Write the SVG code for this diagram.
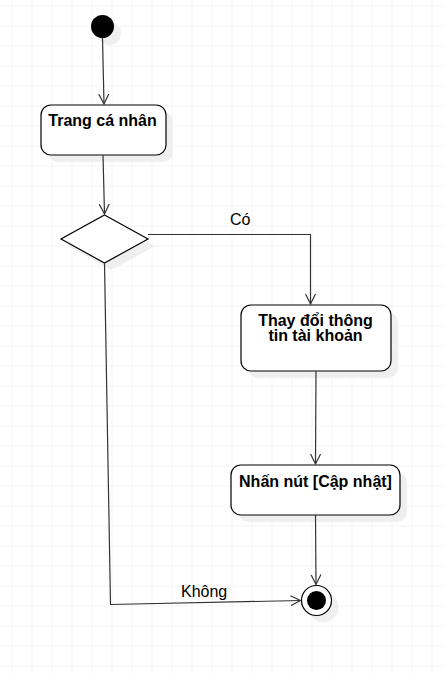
<svg xmlns="http://www.w3.org/2000/svg" width="445" height="673" viewBox="0 0 445 673">
<defs>
<pattern id="grid" x="11.5" y="5.5" width="20" height="20" patternUnits="userSpaceOnUse">
<path d="M0 0H20M0 0V20" fill="none" stroke="#ebebeb" stroke-width="1"/>
</pattern>
<marker id="open" markerWidth="12" markerHeight="12" refX="10" refY="5" orient="auto" markerUnits="userSpaceOnUse" viewBox="0 0 12 10">
<path d="M0 0L10 5L0 10" fill="none" stroke="#333" stroke-width="1.2"/>
</marker>
</defs>
<style>
.node{fill:#fff;stroke:#000;stroke-width:1.2}
.shadow{fill:#efefef;stroke:none}
.lbl{font-family:"Liberation Sans",Arial,sans-serif;font-size:16px;font-weight:bold;fill:#000;text-anchor:middle}
.edge{fill:none;stroke:#333;stroke-width:1.2}
.elbl{font-family:"Liberation Sans",Arial,sans-serif;font-size:16px;fill:#000}
</style>
<rect width="445" height="673" fill="#fff"/>
<rect width="445" height="673" fill="url(#grid)"/>

<g id="start">
<circle class="shadow" cx="109.5" cy="33.5" r="11.5"/>
<circle cx="102.5" cy="26.5" r="11.5" fill="#000"/>
</g>

<g id="trang-ca-nhan">
<rect class="shadow" x="48" y="112" width="125" height="50" rx="10"/>
<rect class="node" x="41" y="105" width="125" height="50" rx="10"/>
<text class="lbl" x="102.5" y="126">Trang cá nhân</text>
</g>

<g id="decision">
<polygon class="shadow" points="111.5,222 155,246 111.5,270 68,246"/>
<polygon class="node" points="104.5,215 148,239 104.5,263 61,239"/>
</g>

<g id="thay-doi">
<rect class="shadow" x="248" y="312" width="150" height="66" rx="10"/>
<rect class="node" x="241" y="305" width="150" height="66" rx="10"/>
<text class="lbl" x="315.5" y="325.5"><tspan x="315.5" y="325.5">Thay đổi thông</tspan><tspan x="315.5" y="340.5">tin tài khoản</tspan></text>
</g>

<g id="nhan-nut">
<rect class="shadow" x="238" y="472" width="169" height="50" rx="10"/>
<rect class="node" x="231" y="465" width="169" height="50" rx="10"/>
<text class="lbl" x="315.5" y="487">Nhấn nút [Cập nhật]</text>
</g>

<g id="end">
<circle class="shadow" cx="323.5" cy="607.5" r="15"/>
<circle cx="316.5" cy="600.5" r="15" fill="#fff" stroke="#000" stroke-width="1.2"/>
<circle cx="316.5" cy="600.5" r="9.5" fill="#000"/>
</g>

<g id="connectors">
<path class="edge" d="M102.5 38L104 104" marker-end="url(#open)"/>
<path class="edge" d="M103 155L104.5 214" marker-end="url(#open)"/>
<path class="edge" d="M148 234.5H310.5V304" marker-end="url(#open)"/>
<path class="edge" d="M316 371L315.5 464" marker-end="url(#open)"/>
<path class="edge" d="M315.5 515L316 584.5" marker-end="url(#open)"/>
<path class="edge" d="M104.5 263L110.5 604.5L300.5 600.5" marker-end="url(#open)"/>
<text class="elbl" x="230" y="225">Có</text>
<text class="elbl" x="181" y="597">Không</text>
</g>
</svg>
